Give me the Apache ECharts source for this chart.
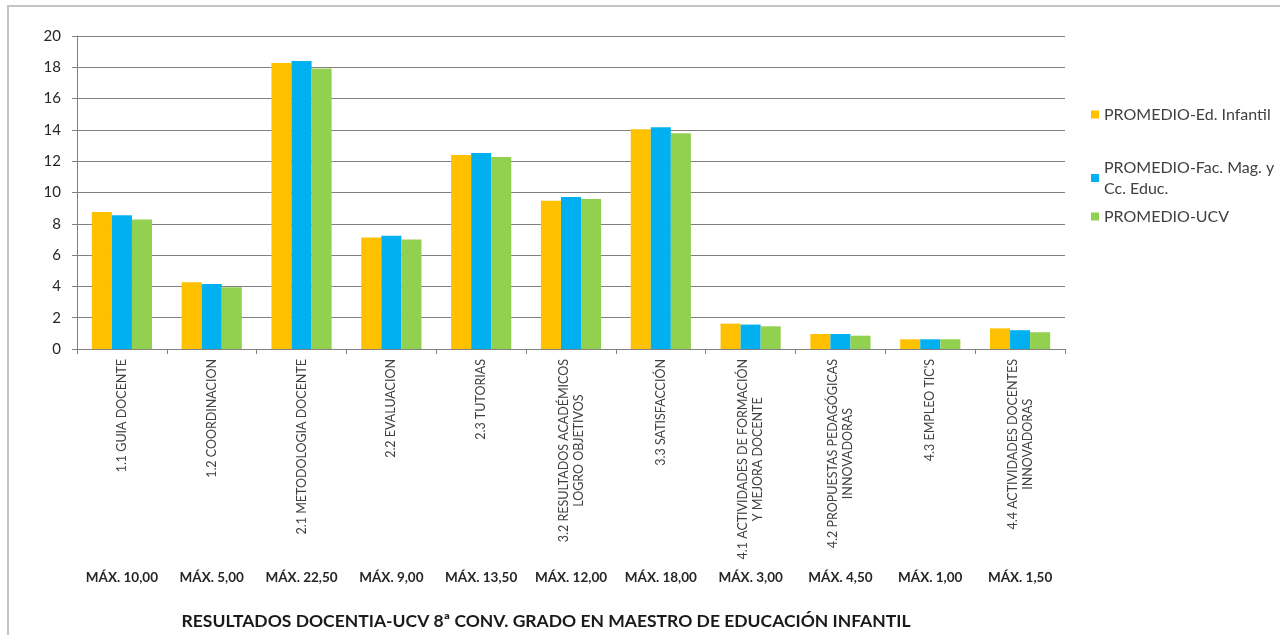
<!DOCTYPE html>
<html>
<head>
<meta charset="utf-8">
<script src="https://cdn.jsdelivr.net/npm/echarts@6/dist/echarts.min.js"></script>
<style>
html,body{margin:0;padding:0;background:#fff;}
#chart{width:1280px;height:635px;}
</style>
</head>
<body>
<div id="chart"></div>
<script>
const categories = [
  '1.1 GUIA DOCENTE',
  '1.2 COORDINACION',
  '2.1 METODOLOGIA DOCENTE',
  '2.2 EVALUACION',
  '2.3 TUTORIAS',
  '3.2 RESULTADOS ACADÉMICOS\nLOGRO OBJETIVOS',
  '3.3 SATISFACCIÓN',
  '4.1 ACTIVIDADES DE FORMACIÓN\nY MEJORA DOCENTE',
  '4.2 PROPUESTAS PEDAGÓGICAS\nINNOVADORAS',
  '4.3 EMPLEO TIC\'S',
  '4.4 ACTIVIDADES DOCENTES\nINNOVADORAS'
];
const maxLabels = ['MÁX. 10,00','MÁX. 5,00','MÁX. 22,50','MÁX. 9,00','MÁX. 13,50','MÁX. 12,00','MÁX. 18,00','MÁX. 3,00','MÁX. 4,50','MÁX. 1,00','MÁX. 1,50'];
const seriesNames = ['PROMEDIO-Ed. Infantil', 'PROMEDIO-Fac. Mag. y\nCc. Educ.', 'PROMEDIO-UCV'];
const edInfantil = [8.75, 4.27, 18.27, 7.13, 12.40, 9.48, 14.04, 1.62, 0.96, 0.62, 1.32];
const facMag     = [8.54, 4.16, 18.40, 7.24, 12.53, 9.71, 14.17, 1.56, 0.96, 0.62, 1.20];
const ucv        = [8.28, 3.95, 17.93, 7.00, 12.27, 9.58, 13.79, 1.45, 0.85, 0.62, 1.07];
const yTicks = [0, 2, 4, 6, 8, 10, 12, 14, 16, 18, 20];
const titleText = 'RESULTADOS DOCENTIA-UCV 8ª CONV. GRADO EN MAESTRO DE EDUCACIÓN INFANTIL';
const colors = ['#FFC000', '#00B0F0', '#92D050'];

const chart = echarts.init(document.getElementById('chart'));
const legendTops = [99, 152, 201];
const option = {
  animation: false,
  textStyle: {fontFamily: 'Lato, sans-serif'},
  grid: {left: 77, right: 215, top: 36, bottom: 286, containLabel: false},
  legend: seriesNames.map((n, i) => ({
    data: [n], left: 1086, top: legendTops[i], orient: 'vertical',
    icon: 'rect', itemWidth: 8, itemHeight: 8, itemGap: 4,
    textStyle: {fontFamily: 'Lato, sans-serif', fontSize: 16, color: '#404040', lineHeight: 21}
  })),
  xAxis: [{
    type: 'category', data: categories, position: 'bottom',
    axisLine: {show: true, lineStyle: {color: '#808080', width: 1}},
    axisTick: {show: true, length: 5, lineStyle: {color: '#808080'}},
    axisLabel: {
      interval: 0, rotate: 90, margin: 10,
      formatter: v => v.split('\n').map(s => '{c|' + s + '}').join('\n'),
      rich: {c: {align: 'center', fontFamily: 'Lato, sans-serif', fontSize: 12.5, color: '#404040', lineHeight: 15}}
    }
  }, {
    type: 'category', data: maxLabels, position: 'bottom', offset: 214,
    axisLine: {show: false}, axisTick: {show: false},
    axisLabel: {interval: 0, margin: 8, fontFamily: 'Lato, sans-serif', fontSize: 13.5, fontWeight: 'bold', color: '#262626'}
  }],
  yAxis: {
    type: 'value', min: 0, max: 20, interval: 2,
    axisLine: {show: true, lineStyle: {color: '#808080', width: 1}},
    axisTick: {show: true, length: 5, lineStyle: {color: '#808080'}},
    axisLabel: {margin: 16, fontFamily: 'Lato, sans-serif', fontSize: 15, color: '#262626',
      formatter: v => yTicks.includes(v) ? String(v) : ''},
    splitLine: {show: true, lineStyle: {color: '#808080', width: 1}}
  },
  series: [edInfantil, facMag, ucv].map((d, i) => ({
    name: seriesNames[i], type: 'bar', data: d, xAxisIndex: 0,
    barGap: '0%', barCategoryGap: '33%',
    itemStyle: {color: colors[i]}
  })),
  graphic: [
    {type: 'rect', shape: {x: 8, y: 6, width: 1300, height: 700}, style: {fill: 'none', stroke: '#c4c4c4', lineWidth: 2}, z: 100},
    {type: 'text', x: 546, y: 621, style: {text: titleText, textAlign: 'center', textVerticalAlign: 'middle',
      fontFamily: 'Lato, sans-serif', fontSize: 17.5, fontWeight: 'bold', fill: '#1a1a1a'}}
  ]
};
chart.setOption(option);
</script>
</body>
</html>
